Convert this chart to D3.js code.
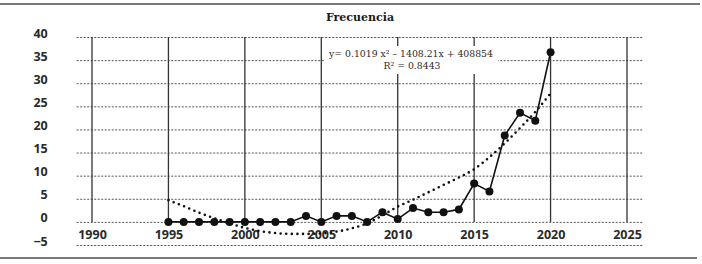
<!DOCTYPE html>
<html>
<head>
<meta charset="utf-8">
<script src="https://cdn.jsdelivr.net/npm/d3@7"></script>
<style>
  body { margin: 0; background: #fff; }
  .tick text { font-family: "Open Sans", sans-serif; font-weight: 700; font-size: 12.5px; fill: #2a2a2a; }
</style>
</head>
<body>
<svg id="chart" width="702" height="264"></svg>
<script>
// chart data
const titleText = 'Frecuencia';
const years = [1995, 1996, 1997, 1998, 1999, 2000, 2001, 2002, 2003, 2004, 2005, 2006, 2007,
               2008, 2009, 2010, 2011, 2012, 2013, 2014, 2015, 2016, 2017, 2018, 2019, 2020];
const freq = [0, 0, 0, 0, 0, 0, 0, 0, 0, 1.3, 0, 1.3, 1.3,
              0, 2.1, 0.6, 3, 2.1, 2.1, 2.7, 8.3, 6.6, 18.7, 23.6, 21.9, 36.7];
// polynomial trend as drawn (dotted)
const trend = [4.7, 3.4, 2.0, 0.8, -0.3, -1.3, -2.0, -2.4, -2.6, -2.6, -2.5, -2.1, -1.4,
               -0.3, 1.4, 3.3, 4.8, 6.4, 8.0, 9.6, 11.4, 14.0, 17.0, 20.3, 23.8, 27.8];
const xTicks = [1990, 1995, 2000, 2005, 2010, 2015, 2020, 2025];
const yTicks = [-5, 0, 5, 10, 15, 20, 25, 30, 35, 40];
const eqText = 'y= 0.1019 x² – 1408.21x + 408854';
const r2Text = 'R² = 0.8443';

const svg = d3.select('#chart');

// scales: year -> px, value -> px
const x = d3.scaleLinear().domain([1990, 2025]).range([92, 627]);
const y = d3.scaleLinear().domain([-5, 40]).range([245, 37]);

// top / bottom rules
svg.append('line').attr('x1', 0).attr('x2', 700).attr('y1', 4).attr('y2', 4)
  .attr('stroke', '#777').attr('stroke-width', 2);
svg.append('line').attr('x1', 0).attr('x2', 697).attr('y1', 258).attr('y2', 258)
  .attr('stroke', '#777').attr('stroke-width', 2);

// title
svg.append('text')
  .attr('x', 360).attr('y', 21)
  .attr('text-anchor', 'middle')
  .style('font-family', '"DejaVu Serif", serif')
  .style('font-weight', 700)
  .style('font-size', '11px')
  .attr('fill', '#1a1a1a')
  .text(titleText);

// y axis with dotted gridlines
const gridLeft = x(1989), gridRight = x(2026);
const yAxisG = svg.append('g')
  .attr('transform', `translate(${gridLeft},0)`)
  .call(d3.axisLeft(y).tickValues(yTicks)
    .tickSize(-(gridRight - gridLeft))
    .tickPadding(29)
    .tickFormat(d => d < 0 ? '−' + Math.abs(d) : d));
yAxisG.select('.domain').remove();
yAxisG.selectAll('.tick line')
  .attr('stroke', '#555').attr('stroke-width', 1).attr('stroke-dasharray', '2,1.5');
yAxisG.selectAll('.tick text').attr('y', -4);

// vertical year lines
svg.append('g').selectAll('line').data(xTicks).enter().append('line')
  .attr('x1', d => x(d)).attr('x2', d => x(d))
  .attr('y1', y(40)).attr('y2', y(0))
  .attr('stroke', '#333').attr('stroke-width', 1.3);

// x axis labels
const xAxisG = svg.append('g')
  .attr('transform', `translate(0,${y(0)})`)
  .call(d3.axisBottom(x).tickValues(xTicks).tickSize(0).tickPadding(8).tickFormat(d3.format('d')));
xAxisG.select('.domain').remove();

// equation box
svg.append('rect')
  .attr('x', 325).attr('y', 46).attr('width', 173).attr('height', 28)
  .attr('fill', '#fff');
const eq = svg.append('g')
  .style('font-family', '"DejaVu Serif", serif')
  .style('font-size', '9.3px')
  .attr('fill', '#2a2a2a')
  .attr('text-anchor', 'middle');
eq.append('text').attr('x', 411).attr('y', 57).text(eqText);
eq.append('text').attr('x', 412).attr('y', 69).text(r2Text);

// trend (dotted)
const trendLine = d3.line()
  .x((d, i) => x(years[i]))
  .y(d => y(d))
  .curve(d3.curveMonotoneX);
svg.append('path')
  .attr('d', trendLine(trend))
  .attr('fill', 'none')
  .attr('stroke', '#111')
  .attr('stroke-width', 2.6)
  .attr('stroke-linecap', 'round')
  .attr('stroke-dasharray', '0,5.6');

// frequency line + markers
const freqLine = d3.line()
  .x((d, i) => x(years[i]))
  .y(d => y(d));
svg.append('path')
  .attr('d', freqLine(freq))
  .attr('fill', 'none')
  .attr('stroke', '#111')
  .attr('stroke-width', 1.6);

svg.append('g').selectAll('circle').data(freq).enter().append('circle')
  .attr('cx', (d, i) => x(years[i]))
  .attr('cy', d => y(d))
  .attr('r', 4)
  .attr('fill', '#111');
</script>
</body>
</html>
